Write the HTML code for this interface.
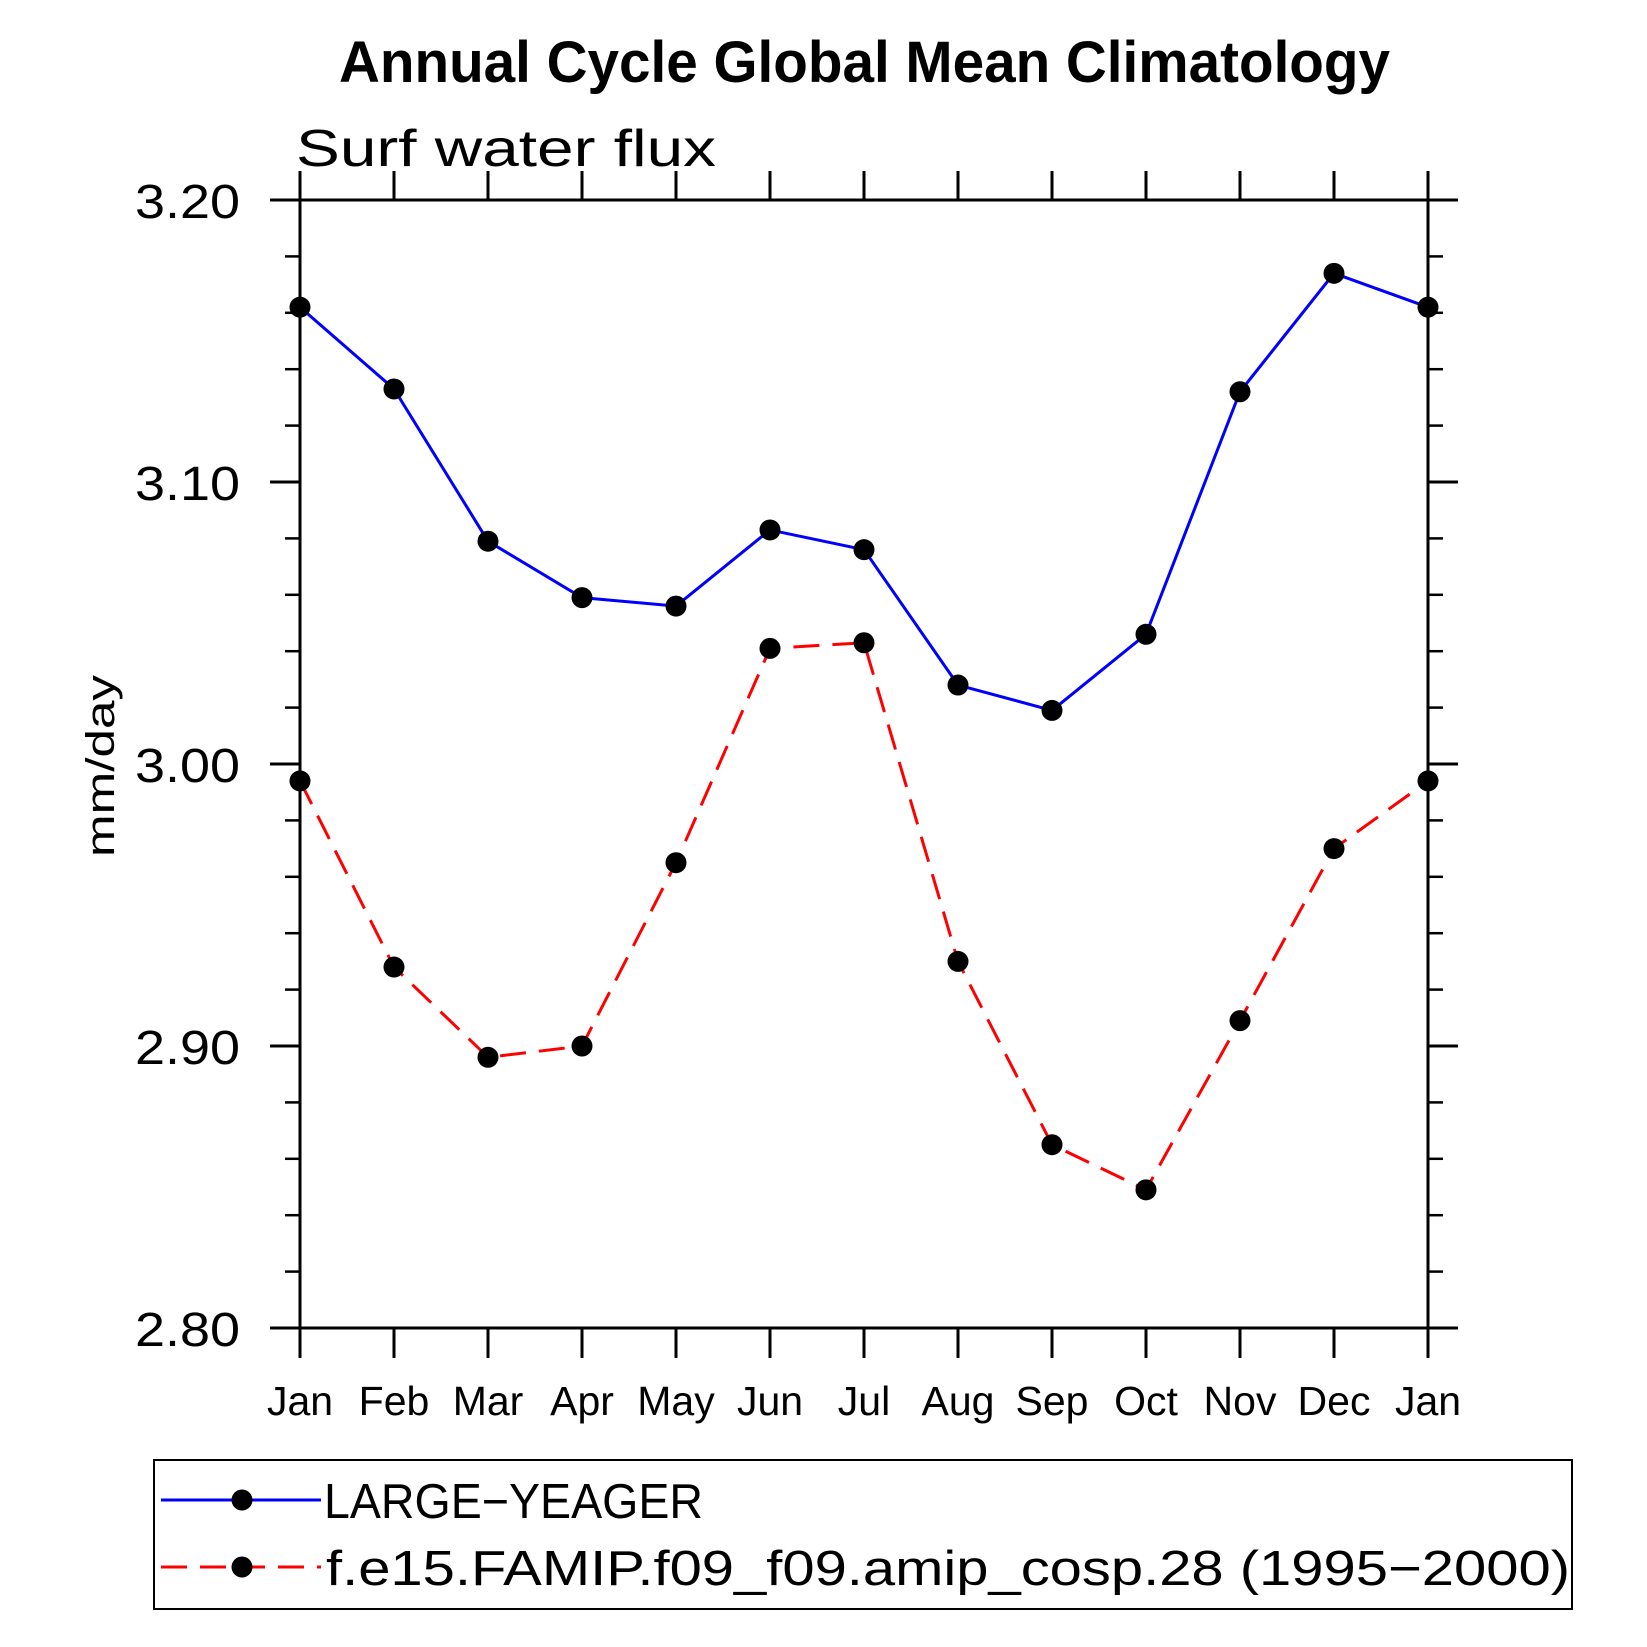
<!DOCTYPE html>
<html><head><meta charset="utf-8"><style>html,body{margin:0;padding:0;background:#fff}svg{display:block}text{font-family:"Liberation Sans",sans-serif}</style></head>
<body>
<svg id="chart" width="1647" height="1647" viewBox="0 0 1647 1647" xmlns="http://www.w3.org/2000/svg">
<text x="339" y="82" font-size="58" font-weight="bold" textLength="1051" lengthAdjust="spacingAndGlyphs">Annual Cycle Global Mean Climatology</text>
<text x="296" y="166" font-size="52" textLength="420" lengthAdjust="spacingAndGlyphs">Surf water flux</text>
<text transform="translate(114,766) rotate(-90)" font-size="40" text-anchor="middle" textLength="182" lengthAdjust="spacingAndGlyphs">mm/day</text>
<g id="axes"></g>
<g id="series"></g>
<rect x="154" y="1460" width="1418" height="149" fill="none" stroke="#000" stroke-width="2"/>
<g>
<line x1="161" y1="1500" x2="321" y2="1500" stroke="#0000ff" stroke-width="3"/>
<circle cx="242" cy="1500" r="10.5" fill="#000"/>
<text x="324" y="1518" font-size="49" textLength="379" lengthAdjust="spacingAndGlyphs">LARGE−YEAGER</text>
</g>
<g>
<line x1="161" y1="1567" x2="321" y2="1567" stroke="#ff0000" stroke-width="3" stroke-dasharray="26,13"/>
<circle cx="242" cy="1567" r="10.5" fill="#000"/>
<text x="326" y="1585" font-size="49" textLength="1244" lengthAdjust="spacingAndGlyphs">f.e15.FAMIP.f09_f09.amip_cosp.28 (1995−2000)</text>
</g>
</svg>
<script>
const months = ["Jan","Feb","Mar","Apr","May","Jun","Jul","Aug","Sep","Oct","Nov","Dec","Jan"];
const largeYeager = [3.162,3.133,3.079,3.059,3.056,3.083,3.076,3.028,3.019,3.046,3.132,3.174,3.162];
const famip = [2.994,2.928,2.896,2.900,2.965,3.041,3.043,2.930,2.865,2.849,2.909,2.970,2.994];
const yTicks = [2.80,2.90,3.00,3.10,3.20];
const yTickLabels = ["2.80","2.90","3.00","3.10","3.20"];
const yMin = 2.8, yMax = 3.2;
const L=300,R=1428,T=200,B=1328;
const NS="http://www.w3.org/2000/svg";
const xs=i=>L+(R-L)*i/(months.length-1);
const ys=v=>B-(B-T)*(v-yMin)/(yMax-yMin);
function mk(tag,attrs,parent){const e=document.createElementNS(NS,tag);for(const k in attrs)e.setAttribute(k,attrs[k]);parent.appendChild(e);return e;}
const ax=document.getElementById('axes');
const frame=mk('rect',{x:L,y:T,width:R-L,height:B-T,fill:'none',stroke:'#000','stroke-width':3},ax);


months.forEach((m,i)=>{
  const x=xs(i);
  const tb=mk('line',{x1:x,y1:B,x2:x,y2:B+30,stroke:'#000','stroke-width':3},ax);
  
  
  const tt=mk('line',{x1:x,y1:T,x2:x,y2:T-29,stroke:'#000','stroke-width':3},ax);
  
  
  const t=mk('text',{x:x,y:1415,'font-size':41,'text-anchor':'middle'},ax);
  t.textContent=m;
  
  
});
yTicks.forEach((v,i)=>{
  const y=ys(v);
  const a=mk('line',{x1:L-30,y1:y,x2:L,y2:y,stroke:'#000','stroke-width':3},ax);
  
  
  const b=mk('line',{x1:R,y1:y,x2:R+30,y2:y,stroke:'#000','stroke-width':3},ax);
  
  
  const t=mk('text',{x:135,y:y+18,'font-size':48,textLength:105,lengthAdjust:'spacingAndGlyphs'},ax);
  t.textContent=yTickLabels[i];
  
  
  if(i<yTicks.length-1){
    for(let k=1;k<5;k++){
      const ym=ys(v+(yTicks[i+1]-v)*k/5);
      const m1=mk('line',{x1:L-15,y1:ym,x2:L,y2:ym,stroke:'#000','stroke-width':2.5},ax);
      
      
      const m2=mk('line',{x1:R,y1:ym,x2:R+15,y2:ym,stroke:'#000','stroke-width':2.5},ax);
      
      
    }
  }
});
const sg=document.getElementById('series');
function drawSeries(vals,color,dash,name){
  const g=mk('g',{},sg);
  
  
  const pts=vals.map((v,i)=>xs(i)+','+ys(v)).join(' ');
  const pl=mk('polyline',{points:pts,fill:'none',stroke:color,'stroke-width':3,'stroke-dasharray':dash},g);
  
  
  vals.forEach((v,i)=>{
    const c=mk('circle',{cx:xs(i),cy:ys(v),r:10.5,fill:'#000'},g);
    
    
  });
}
drawSeries(largeYeager,'#0000ff','none','series-large-yeager');
drawSeries(famip,'#ff0000','26,13','series-famip');
</script>
</body></html>
